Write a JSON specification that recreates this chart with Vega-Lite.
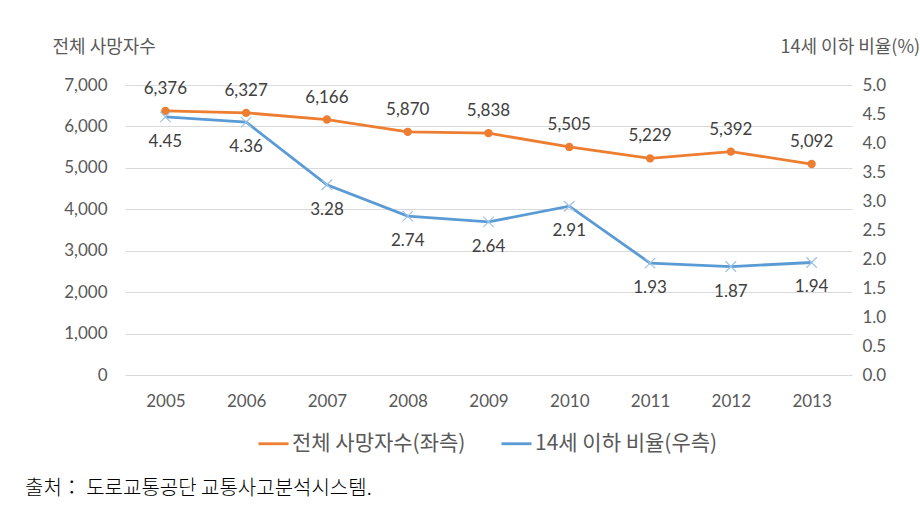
{
  "$schema": "https://vega.github.io/schema/vega-lite/v6.json",
  "width": 727,
  "height": 290,
  "autosize": {"type": "none"},
  "padding": {"left": 125, "top": 85, "right": 68, "bottom": 133},
  "background": "white",
  "config": {
    "font": "Noto Sans CJK KR",
    "view": {"stroke": null},
    "axis": {"labelFont": "Lato", "labelFontSize": 17, "labelColor": "#595959", "ticks": false, "domain": false, "titleFont": "Noto Sans CJK KR", "titleFontWeight": "normal", "titleColor": "#595959", "titleFontSize": 18},
    "legend": {"labelFont": "Noto Sans CJK KR", "labelFontSize": 21, "labelColor": "#595959", "labelLimit": 400}
  },
  "title": {
    "text": "출처：  도로교통공단   교통사고분석시스템.",
    "orient": "bottom",
    "anchor": "start",
    "font": "Noto Sans CJK KR",
    "fontSize": 20,
    "fontWeight": 300,
    "color": "#000000",
    "dx": -27,
    "offset": 25
  },
  "data": {
    "values": [
      {"year": "2005", "deaths": 6376, "ratio": 4.45},
      {"year": "2006", "deaths": 6327, "ratio": 4.36},
      {"year": "2007", "deaths": 6166, "ratio": 3.28},
      {"year": "2008", "deaths": 5870, "ratio": 2.74},
      {"year": "2009", "deaths": 5838, "ratio": 2.64},
      {"year": "2010", "deaths": 5505, "ratio": 2.91},
      {"year": "2011", "deaths": 5229, "ratio": 1.93},
      {"year": "2012", "deaths": 5392, "ratio": 1.87},
      {"year": "2013", "deaths": 5092, "ratio": 1.94}
    ]
  },
  "encoding": {
    "x": {"field": "year", "type": "ordinal", "axis": {"title": null, "labelAngle": 0, "labelPadding": 18, "grid": false}}
  },
  "layer": [
    {
      "encoding": {
        "y": {"field": "deaths", "type": "quantitative", "scale": {"domain": [0, 7000]},
          "axis": {"title": "전체 사망자수", "titleAngle": 0, "titleAlign": "left", "titleBaseline": "middle", "titleX": -73, "titleY": -38, "format": ",.0f", "values": [0,1000,2000,3000,4000,5000,6000,7000], "labelPadding": 18, "grid": true, "gridColor": "#D9D9D9", "gridWidth": 1}}
      },
      "layer": [
        {"mark": {"type": "line", "strokeWidth": 2.8}, "encoding": {"color": {"datum": "전체 사망자수(좌측)", "scale": {"domain": ["전체 사망자수(좌측)", "14세 이하 비율(우측)"], "range": ["#ED7D31", "#5B9BD5"]}, "legend": {"title": null, "orient": "none", "direction": "horizontal", "legendX": 132, "legendY": 342, "symbolType": "M-1,0H1", "symbolSize": 900, "symbolStrokeWidth": 2.8, "columnPadding": 29, "labelOffset": 2}}}},
        {"mark": {"type": "point", "filled": true, "size": 70, "opacity": 1, "color": "#ED7D31"}},
        {"mark": {"type": "text", "dy": -22, "fontSize": 17, "font": "Lato", "color": "#404040"}, "encoding": {"text": {"field": "deaths", "type": "quantitative", "format": ",.0f"}}}
      ]
    },
    {
      "encoding": {
        "y": {"field": "ratio", "type": "quantitative", "scale": {"domain": [0, 5]},
          "axis": {"orient": "right", "title": "14세 이하 비율(%)", "titleAngle": 0, "titleAlign": "left", "titleBaseline": "middle", "titleX": -72, "titleY": -38, "format": ".1f", "values": [0,0.5,1,1.5,2,2.5,3,3.5,4,4.5,5], "labelPadding": 10, "grid": false}}
      },
      "layer": [
        {"mark": {"type": "line", "strokeWidth": 2.8}, "encoding": {"color": {"datum": "14세 이하 비율(우측)"}}},
        {"mark": {"type": "point", "shape": "M-1,-1L1,1M-1,1L1,-1", "filled": false, "strokeWidth": 1.2, "size": 110, "opacity": 1, "color": "#9DC3E6"}},
        {"mark": {"type": "text", "dy": 25, "fontSize": 17, "font": "Lato", "color": "#404040"}, "encoding": {"text": {"field": "ratio", "type": "quantitative", "format": ".2f"}}}
      ]
    }
  ],
  "resolve": {"scale": {"y": "independent"}}
}
